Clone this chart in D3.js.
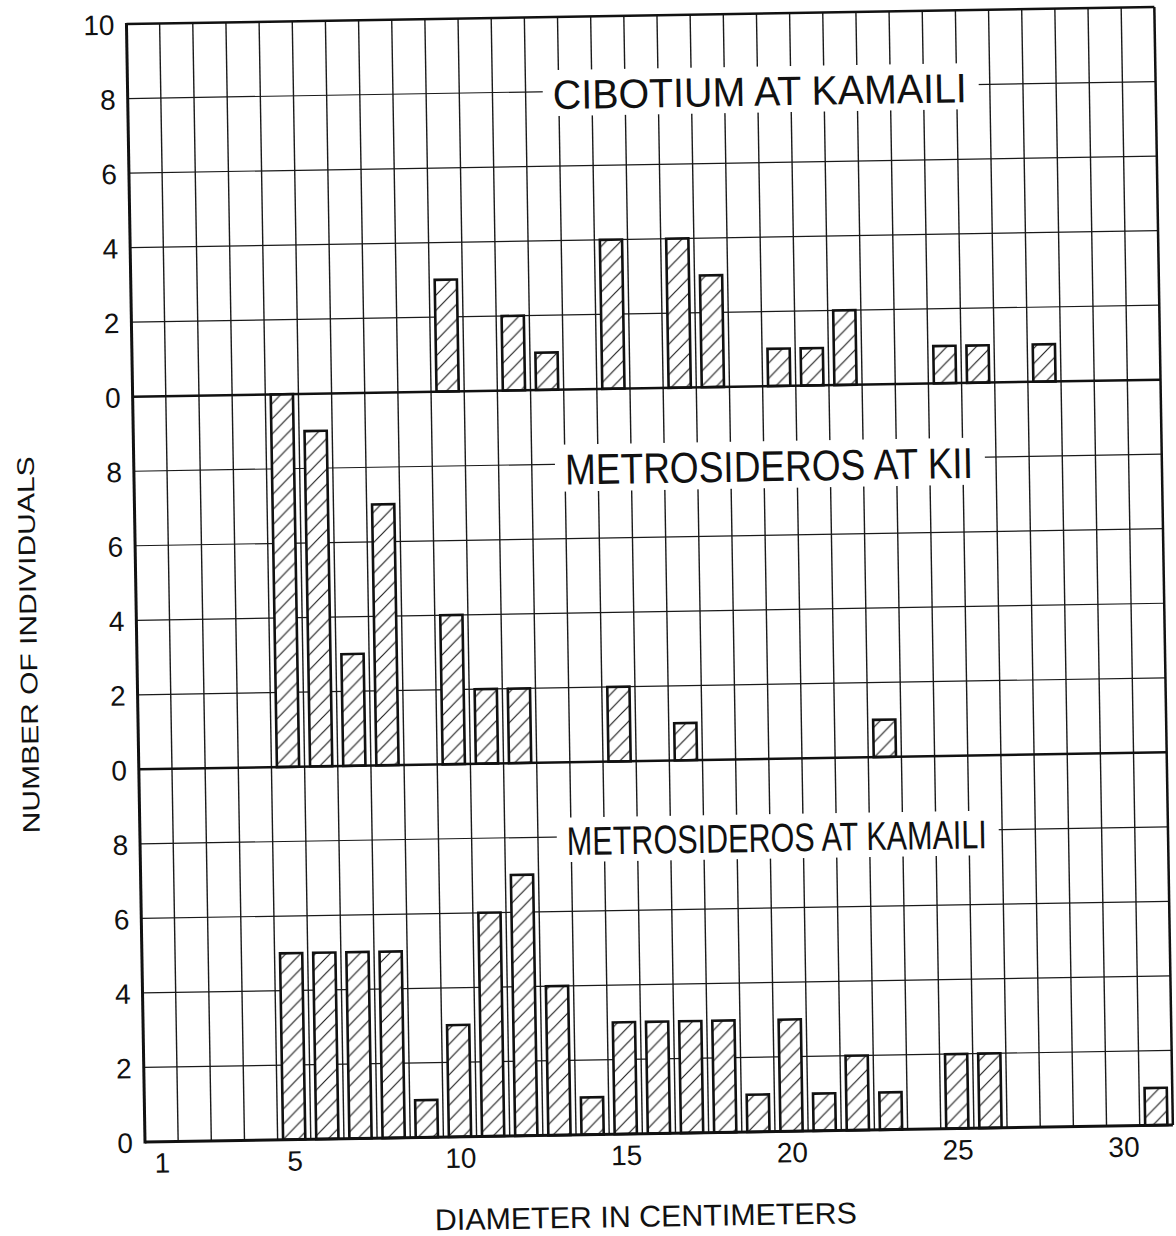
<!DOCTYPE html>
<html>
<head>
<meta charset="utf-8">
<script src="https://cdn.jsdelivr.net/npm/d3@7"></script>
<style>
  html, body { margin: 0; padding: 0; background: #fff; }
  svg { display: block; }
  text { font-family: "Liberation Sans", Arial, "Noto Sans", sans-serif; fill: #111; }
</style>
</head>
<body>
<script>
// Diameter classes (cm) and counts for each stand
const cibotiumKamailiDiam  = [10, 12, 13, 15, 17, 18, 20, 21, 22, 25, 26, 28];
const cibotiumKamailiCount = [3, 2, 1, 4, 4, 3, 1, 1, 2, 1, 1, 1];

const metroKiiDiam  = [5, 6, 7, 8, 10, 11, 12, 15, 17, 23];
const metroKiiCount = [10, 9, 3, 7, 4, 2, 2, 2, 1, 1];

const metroKamailiDiam  = [5, 6, 7, 8, 9, 10, 11, 12, 13, 14, 15, 16, 17, 18, 19, 20, 21, 22, 23, 25, 26, 31];
const metroKamailiCount = [5, 5, 5, 5, 1, 3, 6, 7, 4, 1, 3, 3, 3, 3, 1, 3, 1, 2, 1, 2, 2, 1];

const panelTitles = ["CIBOTIUM AT KAMAILI", "METROSIDEROS AT KII", "METROSIDEROS AT KAMAILI"];
const xTickLabels = [1, 5, 10, 15, 20, 25, 30];
const yTickLabelsTop = [0, 2, 4, 6, 8, 10];
const yTickLabels = [0, 2, 4, 6, 8];
const yGridValues = [2, 4, 6, 8];
const xTitle = "DIAMETER IN CENTIMETERS";
const yTitle = "NUMBER OF INDIVIDUALS";

const W = 1176, H = 1236;
const left = 145, right = 1173, bottom = 1142, panelH = 372.7;

const svg = d3.select("body").append("svg").attr("width", W).attr("height", H);
svg.append("rect").attr("width", W).attr("height", H).attr("fill", "#fff");

// hatch fill for the bars
const defs = svg.append("defs");
const pat = defs.append("pattern")
  .attr("id", "hatch").attr("patternUnits", "userSpaceOnUse")
  .attr("width", 15).attr("height", 15);
pat.append("rect").attr("width", 15).attr("height", 15).attr("fill", "#fff");
pat.append("path")
  .attr("d", "M-4,4 L4,-4 M0,15 L15,0 M11,19 L19,11")
  .attr("stroke", "#222").attr("stroke-width", 1.2);

// the whole drawing sits slightly tilted
const g = svg.append("g").attr("transform", `rotate(-0.95 ${left} ${bottom})`);

const x = d3.scaleLinear().domain([0.5, 31.5]).range([left, right]);
const unit = x(2) - x(1);

const panels = [
  { title: panelTitles[0], diam: cibotiumKamailiDiam, count: cibotiumKamailiCount, ticks: yTickLabelsTop },
  { title: panelTitles[1], diam: metroKiiDiam, count: metroKiiCount, ticks: yTickLabels },
  { title: panelTitles[2], diam: metroKamailiDiam, count: metroKamailiCount, ticks: yTickLabels }
];
panels.forEach((p, i) => {
  const base = bottom - (2 - i) * panelH;
  p.y = d3.scaleLinear().domain([0, 10]).range([base, base - panelH]);
});

const topY = panels[0].y(10);

// vertical grid lines at the class boundaries
const gridX = d3.range(1.5, 31, 1);
g.append("g").selectAll("line").data(gridX).join("line")
  .attr("x1", d => x(d)).attr("x2", d => x(d))
  .attr("y1", topY).attr("y2", bottom)
  .attr("stroke", "#1a1a1a").attr("stroke-width", 1.4);

// horizontal grid lines in each panel
panels.forEach(p => {
  g.append("g").selectAll("line").data(yGridValues).join("line")
    .attr("x1", left).attr("x2", right)
    .attr("y1", d => p.y(d)).attr("y2", d => p.y(d))
    .attr("stroke", "#1a1a1a").attr("stroke-width", 1.2);
});

// panel titles on white knockouts
const titleGeom = [
  { tx: 13.32, base: 7.53, w: 414, fs: 41, cap: 30 },
  { tx: 13.5, base: 7.45, w: 408, fs: 43, cap: 31 },
  { tx: 13.37, base: 7.51, w: 420, fs: 40, cap: 28.5 }
];
panels.forEach((p, i) => {
  const t = titleGeom[i];
  const tx = x(t.tx), by = p.y(t.base);
  g.append("rect")
    .attr("x", tx - 10).attr("y", by - t.cap - 9)
    .attr("width", t.w + 22).attr("height", t.cap + 16)
    .attr("fill", "#fff");
  g.append("text")
    .attr("x", tx).attr("y", by)
    .attr("font-size", t.fs)
    .attr("textLength", t.w).attr("lengthAdjust", "spacingAndGlyphs")
    .text(p.title);
});

// bars
const barW = unit * 0.67;
panels.forEach(p => {
  const data = p.diam.map((d, k) => ({ d, c: p.count[k] }));
  g.append("g").selectAll("rect").data(data).join("rect")
    .attr("x", d => x(d.d) - barW / 2)
    .attr("width", barW)
    .attr("y", d => p.y(d.c))
    .attr("height", d => p.y(0) - p.y(d.c))
    .attr("fill", "url(#hatch)")
    .attr("stroke", "#111").attr("stroke-width", 2.6);
});

// panel frames
panels.forEach((p, i) => {
  g.append("line").attr("x1", left).attr("x2", right)
    .attr("y1", p.y(0)).attr("y2", p.y(0))
    .attr("stroke", "#111").attr("stroke-width", i === 2 ? 3 : 2.5);
});
g.append("line").attr("x1", left).attr("x2", right)
  .attr("y1", topY).attr("y2", topY)
  .attr("stroke", "#111").attr("stroke-width", 2.5);
g.append("line").attr("x1", right).attr("x2", right)
  .attr("y1", topY).attr("y2", bottom)
  .attr("stroke", "#111").attr("stroke-width", 2.5);
g.append("line").attr("x1", left).attr("x2", left)
  .attr("y1", topY - 1).attr("y2", bottom + 1.5)
  .attr("stroke", "#111").attr("stroke-width", 3);

// y tick labels for each panel
panels.forEach(p => {
  const ax = g.append("g").attr("transform", `translate(${left},0)`)
    .call(d3.axisLeft(p.y).tickValues(p.ticks).tickSize(0).tickPadding(12));
  ax.select(".domain").remove();
  ax.selectAll("text")
    .attr("font-size", 28).attr("font-family", null).attr("fill", "#111")
    .attr("dy", "0.36em");
});

// x tick labels
const xa = g.append("g").attr("transform", `translate(0,${bottom})`)
  .call(d3.axisBottom(x).tickValues(xTickLabels).tickSize(0).tickFormat(d3.format("d")));
xa.select(".domain").remove();
xa.selectAll("text")
  .attr("font-size", 28).attr("font-family", null).attr("fill", "#111")
  .attr("y", 31).attr("dy", 0);

// axis titles
g.append("text")
  .attr("x", (433.5 + 855.7) / 2).attr("y", 1235)
  .attr("text-anchor", "middle").attr("font-size", 30)
  .attr("textLength", 422).attr("lengthAdjust", "spacingAndGlyphs")
  .text(xTitle);

g.append("text")
  .attr("transform", "translate(45,643) rotate(-90)")
  .attr("text-anchor", "middle").attr("font-size", 24)
  .attr("textLength", 377).attr("lengthAdjust", "spacingAndGlyphs")
  .text(yTitle);
</script>
</body>
</html>
